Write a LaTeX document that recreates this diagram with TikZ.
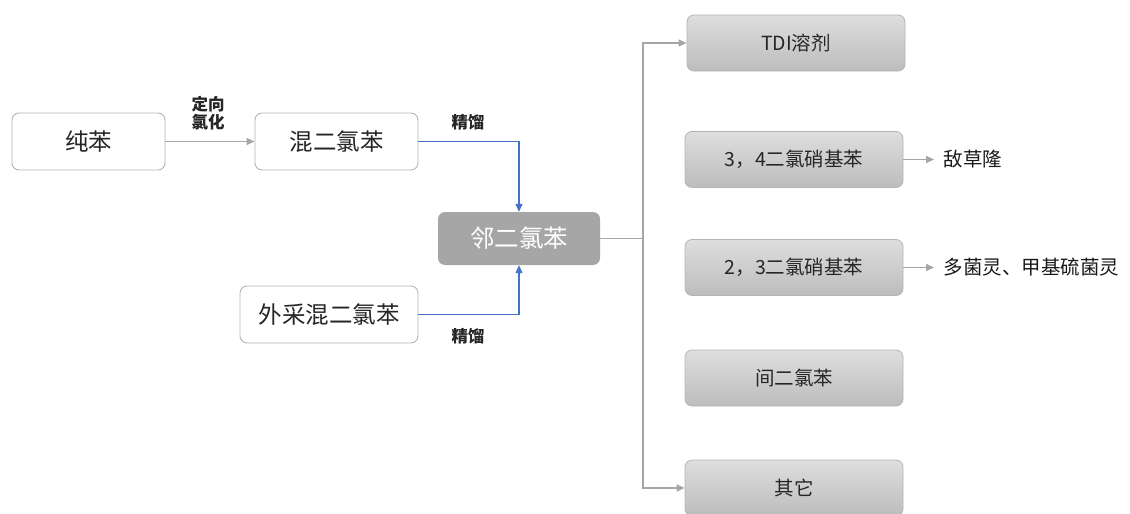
\documentclass[tikz,border=0pt]{standalone}
\usepackage{fontspec}
\setmainfont{Noto Sans CJK SC}
\usetikzlibrary{arrows.meta}
\definecolor{boxborder}{HTML}{B4B4B4}
\definecolor{linegray}{HTML}{A6A6A6}
\definecolor{blueline}{HTML}{4472C4}
\tikzset{
  whitebox/.style={draw=boxborder, rounded corners=7pt, fill=white, line width=0.9pt, font=\fontsize{23.5}{26}\selectfont, text=black!85},
  mainbox/.style={rounded corners=7pt, fill=linegray, font=\fontsize{24.5}{27}\selectfont, text=white},
  graybox/.style={draw=boxborder, rounded corners=7pt, top color=black!13, bottom color=black!26, line width=0.8pt, minimum width=218pt, minimum height=56pt, font=\fontsize{19.5}{22}\selectfont, text=black!85},
  plain/.style={font=\fontsize{19.5}{22}\selectfont, text=black!90, anchor=west},
  lbl/.style={font=\fontsize{16.5}{18.5}\bfseries\selectfont, text=black!85, align=center},
  garrow/.style={draw=linegray, line width=1.6pt, -{Triangle[length=8pt,width=7pt]}},
  gline/.style={draw=linegray, line width=1.6pt},
  barrow/.style={draw=blueline, line width=1.2pt, -{Triangle[length=8pt,width=7pt]}},
}
\begin{document}
\begin{tikzpicture}[x=1pt,y=-1pt]
\useasboundingbox (0,0) rectangle (1130,514);
\node[whitebox, minimum width=153pt, minimum height=57pt] (pure) at (88.5,141.5) {纯苯};
\node[whitebox, minimum width=163pt, minimum height=57pt] (mix) at (336.5,141.5) {混二氯苯};
\node[whitebox, minimum width=178pt, minimum height=57pt] (ext) at (329,314.5) {外采混二氯苯};
\node[mainbox, minimum width=162pt, minimum height=53pt] (ortho) at (519,238.5) {邻二氯苯};

\draw[garrow] (pure.east) -- (mix.west);
\node[lbl] (lab1) at (208,113) {定向\\氯化};

\coordinate (c1) at (519,141.5);
\coordinate (c2) at (519,314.5);
\draw[barrow] (mix.east) -- (c1) -- (ortho.north);
\draw[barrow] (ext.east) -- (c2) -- (ortho.south);
\node[lbl] (lab2) at (468,122) {精馏};
\node[lbl] (lab3) at (468,336) {精馏};

\node[graybox] (tdi) at (796,43) {TDI溶剂};
\node[graybox] (b34) at (794,159.5) {3，4二氯硝基苯};
\node[graybox] (b23) at (794,267.5) {2，3二氯硝基苯};
\node[graybox] (meta) at (794,378) {间二氯苯};
\node[graybox] (other) at (794,488) {其它};

\coordinate (vtop) at (643,43);
\coordinate (vbot) at (643,488);
\coordinate (vmid) at (643,238.5);
\draw[gline] (ortho.east) -- (vmid);
\draw[garrow] (vmid) -- (vtop) -- (tdi.west);
\draw[garrow] (vmid) -- (vbot) -- (other.west);

\node[plain] (p1) at (940,159.5) {敌草隆};
\node[plain] (p2) at (940,267.5) {多菌灵、甲基硫菌灵};
\draw[garrow] (b34.east) -- ([xshift=-6pt]p1.west);
\draw[garrow] (b23.east) -- ([xshift=-6pt]p2.west);
\end{tikzpicture}
\end{document}
